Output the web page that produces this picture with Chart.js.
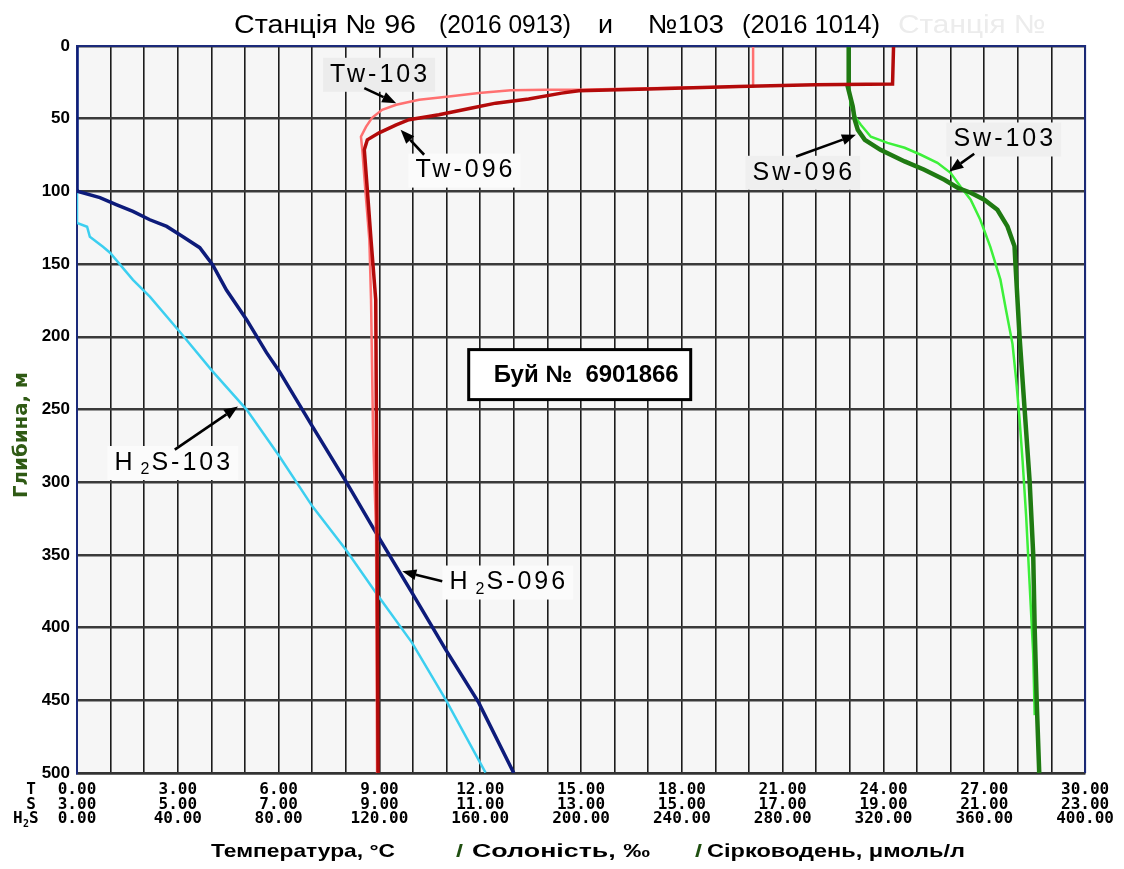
<!DOCTYPE html>
<html>
<head>
<meta charset="utf-8">
<title>Станція № 96 і №103</title>
<script src="https://cdn.jsdelivr.net/npm/chart.js@4.4.1/dist/chart.umd.min.js"></script>
<style>
  html, body { margin: 0; padding: 0; background: #ffffff; }
  #wrap { width: 1124px; height: 869px; }
</style>
</head>
<body>
<div id="wrap"><canvas id="profile" width="1124" height="869"></canvas></div>
<script>
// ---- scale ticks ----
const depthTicks = [0, 50, 100, 150, 200, 250, 300, 350, 400, 450, 500];
const tempTicks  = [0, 3, 6, 9, 12, 15, 18, 21, 24, 27, 30];
const salTicks   = [3, 5, 7, 9, 11, 13, 15, 17, 19, 21, 23];
const h2sTicks   = [0, 40, 80, 120, 160, 200, 240, 280, 320, 360, 400];

// ---- temperature, °C ----
const tw096Depth = [0, 26.2, 26.7, 27.8, 29.6, 30.8, 32.4, 36.5, 39.3, 42.7, 47.3, 50.7, 54.2, 59.7, 64.5, 71.4, 98.9, 133.3, 174.5, 334.7, 500];
const tw096Temp  = [24.30, 24.27, 21.96, 19.67, 17.00, 14.93, 14.42, 13.44, 12.46, 11.75, 10.77, 9.88, 9.50, 8.99, 8.64, 8.55, 8.64, 8.75, 8.89, 8.93, 8.96];

const tw103Depth = [0, 27.8, 29.1, 30.1, 30.1, 30.5, 32.4, 34.7, 37.0, 40.4, 43.9, 49.4, 55.6, 62.4, 71.4, 98.9, 133.3, 174.5, 265.9, 334.7, 500];
const tw103Temp  = [20.12, 20.12, 17.00, 14.93, 13.95, 12.91, 11.96, 11.07, 10.18, 9.50, 9.08, 8.78, 8.60, 8.45, 8.49, 8.58, 8.70, 8.75, 8.81, 8.90, 8.93];

// ---- salinity, ‰ ----
const sw096Depth = [0, 26.2, 27.8, 41.6, 50.7, 57.6, 64.5, 71.4, 79.4, 85.1, 92.0, 97.5, 100.9, 105.7, 112.6, 124.1, 137.8, 151.0, 200.3, 249.9, 299.6, 349.2, 401.2, 450.8, 500];
const sw096Sal   = [18.31, 18.31, 18.29, 18.39, 18.43, 18.49, 18.63, 18.94, 19.42, 19.81, 20.21, 20.47, 20.73, 21.00, 21.26, 21.46, 21.60, 21.62, 21.70, 21.80, 21.90, 21.97, 22.00, 22.04, 22.09];

const sw103Depth = [0, 26.2, 41.1, 49.4, 54.2, 62.4, 66.6, 70.0, 74.8, 80.3, 87.2, 96.8, 105.7, 119.5, 138.1, 150.6, 160.7, 181.4, 205.0, 228.7, 257.0, 285.4, 323.2, 370.4, 417.7, 460.2];
const sw103Sal   = [18.31, 18.31, 18.35, 18.45, 18.55, 18.75, 19.08, 19.42, 19.74, 20.07, 20.33, 20.53, 20.73, 20.92, 21.12, 21.23, 21.32, 21.43, 21.56, 21.63, 21.70, 21.76, 21.83, 21.90, 21.97, 22.00];

// ---- hydrogen sulphide, μmol/l ----
const h2s096Depth = [0, 98.7, 100.0, 104.3, 109.2, 113.8, 119.5, 124.1, 131.0, 138.7, 150.4, 167.8, 188.2, 210.9, 223.8, 261.6, 299.4, 334.7, 376.0, 415.1, 451.6, 500];
const h2s096Val   = [0, 0, 0.4, 9.1, 15.8, 22.2, 28.9, 35.6, 41.9, 48.7, 53.8, 59.3, 67.3, 75.2, 80.3, 93.4, 106.7, 118.6, 132.9, 146.3, 159.4, 173.3];

const h2s103Depth = [0, 121.6, 124.3, 131.2, 138.1, 142.2, 160.8, 172.4, 197.2, 223.8, 250.1, 282.2, 316.6, 346.4, 376.0, 410.3, 449.5, 499.7];
const h2s103Val   = [0, 0, 4.0, 5.1, 10.3, 13.1, 22.2, 28.9, 41.1, 53.8, 67.3, 80.3, 93.4, 106.7, 118.6, 132.9, 146.3, 162.1];

// ---- callouts: label centre, arrow tail and head in (°C, m) ----
const callouts = [
  { parts: [['Tw-103']],            at: [9.02, 19.8],  tail: [8.55, 29.0],  head: [9.50, 39.3],  bg: '#ececec' },
  { parts: [['Tw-096']],            at: [11.56, 85.7], tail: [10.33, 74.8], head: [9.63, 57.6],  bg: '#fbfbfb' },
  { parts: [['Sw-096']],            at: [21.63, 87.2], tail: [21.40, 76.0], head: [23.18, 61.1], bg: '#efefef' },
  { parts: [['Sw-103']],            at: [27.61, 64.3], tail: [26.70, 74.1], head: [25.96, 86.3], bg: '#efefef' },
  { parts: [['H'], ['2', 1], ['S-103']], at: [2.88, 286.8], tail: [2.91, 277.6], head: [4.79, 247.9], bg: '#fbfbfb' },
  { parts: [['H'], ['2', 1], ['S-096']], at: [12.85, 369.0], tail: [10.87, 368.2], head: [9.68, 361.3], bg: '#fbfbfb' }
];
const buoy = { text: 'Буй №  6901866', at: [14.96, 226.0] };

// heading pieces: text, left edge, right edge
const headingParts = [
  ['Станція № 96', 234, 416],
  ['(2016 0913)', 439, 571],
  ['и', 598, 613],
  ['№103', 648, 724],
  ['(2016 1014)', 742, 880]
];
// axis title pieces under the scales: text, left edge, right edge, colour
const axisTitleParts = [
  ['Температура, °C', 211, 395, '#000000'],
  ['/', 456, 463, '#1f4f10'],
  ['Солоність, ‰', 472, 650, '#000000'],
  ['/', 695, 702, '#1f4f10'],
  ['Сірководень, μмоль/л', 707, 965, '#000000']
];

const TICK_PAD = 10;
const LINE_H = 14.5;

function pts(xs, ys) { return xs.map((v, i) => ({ x: v, y: ys[i] })); }

function series(label, xs, ys, axis, color, width) {
  return {
    label, data: pts(xs, ys), xAxisID: axis, yAxisID: 'y',
    showLine: true, pointRadius: 0, borderColor: color, backgroundColor: color,
    borderWidth: width, tension: 0, fill: false
  };
}

function fitFont(ctx, text, width, weight, family) {
  ctx.font = `${weight} 100px ${family}`;
  const w = ctx.measureText(text).width;
  return 100 * width / w;
}

// text squeezed or stretched horizontally into [x1, x2] at a fixed font size
function spanText(ctx, text, x1, x2, y) {
  const w = ctx.measureText(text).width;
  ctx.save();
  ctx.translate(x1, y);
  ctx.scale((x2 - x1) / w, 1);
  ctx.fillText(text, 0, 0);
  ctx.restore();
}

function drawArrow(ctx, x1, y1, x2, y2) {
  const a = Math.atan2(y2 - y1, x2 - x1);
  const hl = 14, hw = 5.5;
  const bx = x2 - hl * Math.cos(a), by = y2 - hl * Math.sin(a);
  ctx.strokeStyle = '#000'; ctx.fillStyle = '#000'; ctx.lineWidth = 2.6;
  ctx.beginPath(); ctx.moveTo(x1, y1); ctx.lineTo(bx, by); ctx.stroke();
  ctx.beginPath();
  ctx.moveTo(x2, y2);
  ctx.lineTo(bx - hw * Math.sin(a), by + hw * Math.cos(a));
  ctx.lineTo(bx + hw * Math.sin(a), by - hw * Math.cos(a));
  ctx.closePath(); ctx.fill();
}

const LABEL_FAMILY = '"Liberation Sans", Arial, sans-serif';

function labelLayout(ctx, parts) {
  let w = 0;
  const items = parts.map(([t, sub]) => {
    ctx.font = sub ? `16px ${LABEL_FAMILY}` : `25px ${LABEL_FAMILY}`;
    ctx.letterSpacing = sub ? '0px' : '3px';
    const pre = sub ? 5 : 0;
    const tw = ctx.measureText(t).width;
    const item = { t, sub, x: w + pre, w: tw };
    w += pre + tw + (sub ? 2 : 0);
    return item;
  });
  return { items, w };
}

const decor = {
  id: 'decor',
  beforeDraw(chart) {
    const { ctx, chartArea: a } = chart;
    ctx.save();
    ctx.fillStyle = '#ffffff';
    ctx.fillRect(0, 0, chart.width, chart.height);
    ctx.fillStyle = '#f6f6f6';
    ctx.fillRect(a.left, a.top, a.right - a.left, a.bottom - a.top);
    ctx.restore();
  },
  afterDatasetsDraw(chart) {
    const { ctx, chartArea: a } = chart;
    const sx = chart.scales.x, sy = chart.scales.y;
    const px = v => sx.getPixelForValue(v), py = v => sy.getPixelForValue(v);
    ctx.save();
    // top and right frame
    ctx.strokeStyle = '#1b2a7a'; ctx.lineWidth = 2;
    ctx.beginPath();
    ctx.moveTo(a.left, a.top); ctx.lineTo(a.right, a.top); ctx.lineTo(a.right, a.bottom);
    ctx.stroke();

    // callout backgrounds, arrows, texts
    const layouts = callouts.map(c => labelLayout(ctx, c.parts));
    callouts.forEach((c, i) => {
      const L = layouts[i];
      const cx = px(c.at[0]), cy = py(c.at[1]);
      ctx.fillStyle = c.bg;
      ctx.fillRect(cx - L.w / 2 - 7, cy - 17, L.w + 12, 34);
    });
    callouts.forEach(c => drawArrow(ctx, px(c.tail[0]), py(c.tail[1]), px(c.head[0]), py(c.head[1])));
    callouts.forEach((c, i) => {
      const L = layouts[i];
      const left = px(c.at[0]) - L.w / 2, cy = py(c.at[1]);
      ctx.fillStyle = '#000'; ctx.textAlign = 'left'; ctx.textBaseline = 'middle';
      L.items.forEach(it => {
        ctx.font = it.sub ? `16px ${LABEL_FAMILY}` : `25px ${LABEL_FAMILY}`;
        ctx.letterSpacing = it.sub ? '0px' : '3px';
        ctx.fillText(it.t, left + it.x, cy + (it.sub ? 7 : 0));
      });
    });
    ctx.letterSpacing = '0px';

    // buoy box
    const bx = px(buoy.at[0]), by = py(buoy.at[1]);
    ctx.fillStyle = '#ffffff';
    ctx.fillRect(bx - 111, by - 25, 222, 50);
    ctx.strokeStyle = '#000'; ctx.lineWidth = 3;
    ctx.strokeRect(bx - 111, by - 25, 222, 50);
    const fs = fitFont(ctx, buoy.text, 185, 'bold', LABEL_FAMILY);
    ctx.font = `bold ${fs}px ${LABEL_FAMILY}`;
    ctx.fillStyle = '#000'; ctx.textAlign = 'left'; ctx.textBaseline = 'middle';
    ctx.fillText(buoy.text, bx - 86, by + 1);
    ctx.restore();
  },
  afterDraw(chart) {
    const { ctx } = chart;
    const sx = chart.scales.x;
    ctx.save();
    ctx.textBaseline = 'alphabetic'; ctx.textAlign = 'left';

    // heading
    ctx.font = `normal 26px ${LABEL_FAMILY}`;
    ctx.fillStyle = '#ececec';
    spanText(ctx, 'Станція №', 898, 1046, 33);
    ctx.fillStyle = '#000';
    headingParts.forEach(([t, x1, x2]) => spanText(ctx, t, x1, x2, 33));

    // row headers of the three scales
    const y0 = sx.top + TICK_PAD + LINE_H / 2;
    const RF = '"DejaVu Sans Mono", monospace';
    ctx.font = `bold 16px ${RF}`; ctx.textBaseline = 'middle'; ctx.textAlign = 'center';
    ctx.fillText('T', 31, y0);
    ctx.fillText('S', 31, y0 + LINE_H);
    ctx.textAlign = 'left';
    ctx.fillText('H', 13, y0 + 2 * LINE_H);
    ctx.font = `bold 10px ${RF}`;
    ctx.fillText('2', 23, y0 + 2 * LINE_H + 5);
    ctx.font = `bold 16px ${RF}`;
    ctx.fillText('S', 29, y0 + 2 * LINE_H);

    // axis title under the scales
    ctx.font = `bold 19px ${LABEL_FAMILY}`; ctx.textBaseline = 'alphabetic'; ctx.textAlign = 'left';
    axisTitleParts.forEach(([t, x1, x2, col]) => { ctx.fillStyle = col; spanText(ctx, t, x1, x2, 857); });

    // depth axis title
    const BF = '"DejaVu Sans", Verdana, sans-serif';
    const ys = fitFont(ctx, 'Глибина, м', 126, 'bold', BF);
    ctx.translate(22, 435);
    ctx.rotate(-Math.PI / 2);
    ctx.font = `bold ${ys}px ${BF}`;
    ctx.fillStyle = '#2f5a14'; ctx.textAlign = 'center'; ctx.textBaseline = 'middle';
    ctx.fillText('Глибина, м', 0, 0);
    ctx.restore();
  }
};

const ctx = document.getElementById('profile').getContext('2d');
new Chart(ctx, {
  type: 'scatter',
  data: {
    datasets: [
      series('Tw-096', tw096Temp, tw096Depth, 'x', '#b30a0a', 3.5),
      series('Tw-103', tw103Temp, tw103Depth, 'x', '#ff7070', 2.5),
      series('Sw-096', sw096Sal, sw096Depth, 'xS', '#1f7a12', 4.5),
      series('Sw-103', sw103Sal, sw103Depth, 'xS', '#3df03a', 2.5),
      series('H2S-096', h2s096Val, h2s096Depth, 'xH', '#0d1b7a', 3.5),
      series('H2S-103', h2s103Val, h2s103Depth, 'xH', '#3ccff0', 2.5)
    ]
  },
  options: {
    responsive: false,
    animation: false,
    devicePixelRatio: 1,
    layout: { padding: { left: 0, top: 46, right: 36, bottom: 0 } },
    plugins: { legend: { display: false }, tooltip: { enabled: false }, title: { display: false } },
    scales: {
      x: {
        type: 'linear', position: 'bottom', min: 0, max: 30,
        grid: { color: '#1c1c1c', lineWidth: 1.6, drawTicks: false },
        border: { color: '#333333', width: 2.5 },
        ticks: {
          stepSize: 1, autoSkip: false, maxRotation: 0, minRotation: 0, padding: TICK_PAD,
          color: '#000',
          font: { family: '"DejaVu Sans Mono", monospace', size: 16, weight: 'bold', lineHeight: LINE_H + 'px' },
          callback: v => {
            const i = tempTicks.indexOf(Math.round(v));
            if (i < 0 || Math.abs(v - tempTicks[i]) > 1e-6) return '';
            return [tempTicks[i].toFixed(2), salTicks[i].toFixed(2), h2sTicks[i].toFixed(2)];
          }
        },
        afterFit: s => { s.height = 96; }
      },
      xS: { type: 'linear', position: 'bottom', display: false, min: salTicks[0], max: salTicks[salTicks.length - 1] },
      xH: { type: 'linear', position: 'bottom', display: false, min: h2sTicks[0], max: h2sTicks[h2sTicks.length - 1] },
      y: {
        type: 'linear', reverse: true, min: depthTicks[0], max: depthTicks[depthTicks.length - 1],
        grid: { color: '#3a3a3a', lineWidth: 2.5, drawTicks: false },
        border: { color: '#1b2a7a', width: 2 },
        ticks: {
          stepSize: 50, padding: 7, color: '#000',
          font: { family: '"Liberation Sans", Arial, sans-serif', size: 17, weight: 'bold' }
        },
        afterFit: s => { s.width = 77; }
      }
    }
  },
  plugins: [decor]
});
</script>
</body>
</html>
